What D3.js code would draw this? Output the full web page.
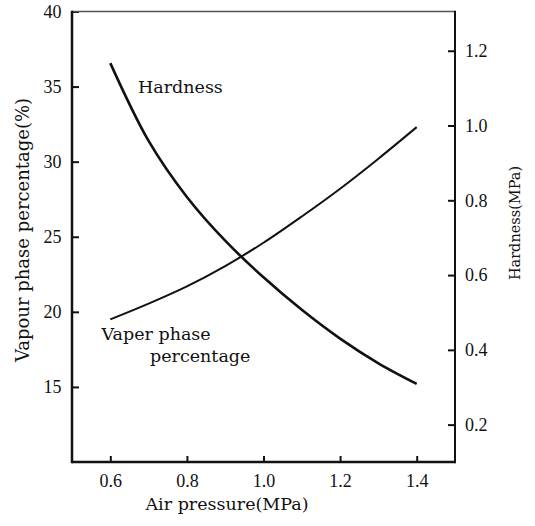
<!DOCTYPE html>
<html>
<head>
<meta charset="utf-8">
<script src="https://cdn.jsdelivr.net/npm/d3@7"></script>
<style>
  body { margin: 0; background: #fff; }
  svg { display: block; }
  .lbl { font-family: "DejaVu Serif", serif; fill: #111; }
  .num { font-family: "Liberation Serif", "Times New Roman", serif; font-size: 18px; fill: #111; }
</style>
</head>
<body>
<div id="graph"></div>
<script>
// air pressure (MPa)
var pressure = [0.6, 0.7, 0.8, 0.9, 1.0, 1.1, 1.2, 1.3, 1.4];
// vapour phase percentage (%)
var vapour = [19.5, 20.55, 21.7, 23.05, 24.6, 26.35, 28.2, 30.2, 32.3];
// hardness (MPa)
var hardness = [1.167, 0.959, 0.809, 0.692, 0.594, 0.507, 0.430, 0.364, 0.309];

var xTicks = [0.6, 0.8, 1.0, 1.2, 1.4];
var yLeftTicks = [15, 20, 25, 30, 35, 40];
var yRightTicks = [0.2, 0.4, 0.6, 0.8, 1.0, 1.2];

var width = 535, height = 526;
var pLeft = 72, pRight = 455, pTop = 11.5, pBottom = 462;

var svg = d3.select('#graph')
            .append('svg')
            .attr('width', width)
            .attr('height', height);

var x = d3.scaleLinear().domain([0.5, 1.5]).range([pLeft, pRight]);
var yL = d3.scaleLinear().domain([10, 40]).range([pBottom, pTop]);
var yR = d3.scaleLinear().domain([0.1, 1.305]).range([pBottom, pTop]);

// axes, ticks pointing inward
var xAxis = svg.append('g')
   .attr('transform', 'translate(0,' + pBottom + ')')
   .call(d3.axisBottom(x).tickValues(xTicks).tickFormat(d3.format('.1f'))
           .tickSizeInner(-6).tickSizeOuter(0).tickPadding(18));

var lAxis = svg.append('g')
   .attr('transform', 'translate(' + pLeft + ',0)')
   .call(d3.axisLeft(yL).tickValues(yLeftTicks)
           .tickSizeInner(-7).tickSizeOuter(0).tickPadding(10.5));

var rAxis = svg.append('g')
   .attr('transform', 'translate(' + pRight + ',0)')
   .call(d3.axisRight(yR).tickValues(yRightTicks).tickFormat(d3.format('.1f'))
           .tickSizeInner(-7).tickSizeOuter(0).tickPadding(10));

[xAxis, lAxis, rAxis].forEach(function(g) {
  g.attr('font-family', null).attr('font-size', null);
  g.select('.domain').remove();
  g.selectAll('.tick line').attr('stroke', '#111').attr('stroke-width', 2);
  g.selectAll('.tick text').attr('class', 'num').attr('fill', null);
});
xAxis.selectAll('.tick text').attr('dy', null).attr('y', 25);

// frame
svg.append('line').attr('x1', pLeft).attr('x2', pRight).attr('y1', pTop).attr('y2', pTop)
   .attr('stroke', '#555').attr('stroke-width', 1.5);
svg.append('line').attr('x1', pLeft).attr('x2', pRight).attr('y1', pBottom).attr('y2', pBottom)
   .attr('stroke', '#111').attr('stroke-width', 2.5);
svg.append('line').attr('x1', pLeft).attr('x2', pLeft).attr('y1', pTop - 0.75).attr('y2', pBottom + 1.25)
   .attr('stroke', '#111').attr('stroke-width', 2.5);
svg.append('line').attr('x1', pRight).attr('x2', pRight).attr('y1', pTop - 0.75).attr('y2', pBottom + 1.25)
   .attr('stroke', '#111').attr('stroke-width', 2);

// curves
var vLine = d3.line()
  .x(function(d, i) { return x(pressure[i]); })
  .y(function(d) { return yL(d); })
  .curve(d3.curveCatmullRom.alpha(0.5));

var hLine = d3.line()
  .x(function(d, i) { return x(pressure[i]); })
  .y(function(d) { return yR(d); })
  .curve(d3.curveCatmullRom.alpha(0.5));

svg.append('path').attr('d', vLine(vapour))
   .attr('fill', 'none').attr('stroke', '#111').attr('stroke-width', 2);
svg.append('path').attr('d', hLine(hardness))
   .attr('fill', 'none').attr('stroke', '#111').attr('stroke-width', 2.6);

// curve labels
svg.append('text').attr('class', 'lbl').attr('x', 138).attr('y', 93)
   .style('font-size', '17.5px').text('Hardness');
svg.append('text').attr('class', 'lbl').attr('x', 101.5).attr('y', 340)
   .style('font-size', '17.5px').text('Vaper phase');
svg.append('text').attr('class', 'lbl').attr('x', 150).attr('y', 361.5)
   .style('font-size', '17.5px').text('percentage');

// axis titles
svg.append('text').attr('class', 'lbl').attr('x', 227).attr('y', 510)
   .attr('text-anchor', 'middle').style('font-size', '17.5px').text('Air pressure(MPa)');
svg.append('text').attr('class', 'lbl')
   .attr('transform', 'translate(28.5,230) rotate(-90)')
   .attr('text-anchor', 'middle').style('font-size', '18px').text('Vapour phase percentage(%)');
svg.append('text').attr('class', 'lbl')
   .attr('transform', 'translate(519.5,223) rotate(-90)')
   .attr('text-anchor', 'middle').style('font-size', '14.5px').text('Hardness(MPa)');
</script>
</body>
</html>
